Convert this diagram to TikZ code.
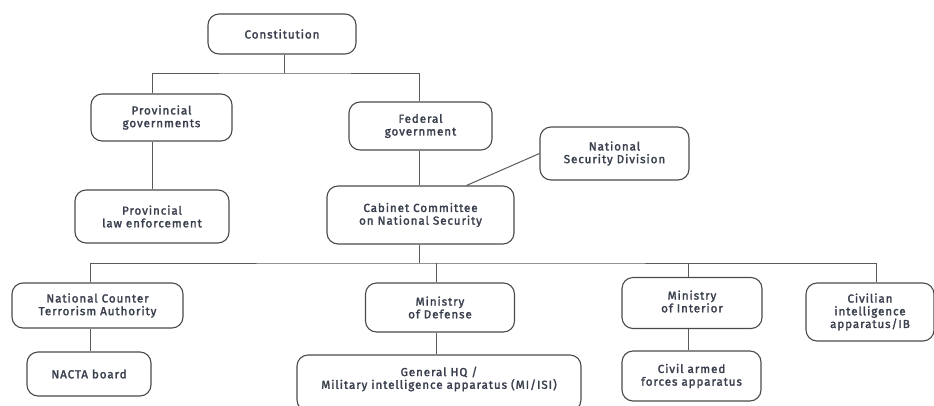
\documentclass[tikz,border=0pt]{standalone}
\usepackage{fontspec}
\setmainfont{Fira Sans}
\newfontfamily\lab{Fira Sans}[FakeBold=2, LetterSpace=8]
\definecolor{boxc}{HTML}{4A4A4A}
\definecolor{linec}{HTML}{5A5A5A}
\definecolor{txt}{HTML}{3A3F4E}
\begin{document}
\begin{tikzpicture}[x=1pt,y=-1pt,
  lbl/.style={text=txt, font=\fontsize{11.6}{12.7}\selectfont\lab, align=center},
  box/.style={lbl, draw=boxc, line width=1.1pt, rounded corners=11pt, inner sep=0pt},
  conn/.style={draw=linec, line width=1pt}]
\fill[white] (0,0) rectangle (934,405);
\useasboundingbox (0,0) rectangle (934,405);
% nodes
\node[box, minimum width=148, minimum height=40] (const) at (282,34) {Constitution};
\node[box, minimum width=141, minimum height=47] (prov) at (161.5,117.5) {Provincial\\governments};
\node[box, minimum width=143, minimum height=48] (fed) at (420.5,126) {Federal\\government};
\node[box, minimum width=154, minimum height=53] (plaw) at (152,216.5) {Provincial\\law enforcement};
\node[box, minimum width=187, minimum height=58] (ccns) at (420.5,215) {Cabinet Committee\\on National Security};
\node[box, minimum width=149, minimum height=53] (nsd) at (614.5,153.5) {National\\Security Division};
\node[box, minimum width=171, minimum height=45] (ncta) at (97.5,305.5) {National Counter\\Terrorism Authority};
\node[box, minimum width=124, minimum height=44] (nacta) at (89,374) {NACTA board};
\node[box, minimum width=149, minimum height=49] (mod) at (440,307.5) {Ministry\\of Defense};
\node[box, minimum width=284, minimum height=56] (ghq) at (439,383) {};
\node[lbl] (ghqt) at (439,379) {General HQ /\\Military intelligence apparatus (MI/ISI)};
\node[box, minimum width=140, minimum height=51] (moi) at (692,303) {};
\node[lbl] (moit) at (692,301.5) {Ministry\\of Interior};
\node[box, minimum width=139, minimum height=50] (caf) at (691.5,376) {Civil armed\\forces apparatus};
\node[box, minimum width=128, minimum height=58] (civ) at (870,312) {Civilian\\intelligence\\apparatus/IB};
% bus points
\coordinate (b1) at (284,73);
\coordinate (b2) at (419,263);
% connectors
\draw[conn] (const.south -| b1) -- (b1);
\draw[conn] (plaw.north |- prov.north) |- (b1) -| ([xshift=-1.5]fed.north);
\draw[conn] (plaw.north |- prov.south) -- (plaw.north);
\draw[conn] ([xshift=-1.5]fed.south) -- ([xshift=-1.5]ccns.north);
\draw[conn] (nsd.west) -- ([xshift=46]ccns.north);
\draw[conn] ([xshift=-1.5]ccns.south) -- (b2);
\draw[conn] ([xshift=1.5]nacta.north |- ncta.north) |- (b2) -| ([xshift=6]civ.north) ;
\draw[conn] ([xshift=-4]mod.north) -- ([xshift=-4]mod.north |- b2);
\draw[conn] ([xshift=-4]moi.north) -- ([xshift=-4]moi.north |- b2);
\draw[conn] ([xshift=1.5]nacta.north |- ncta.south) -- ([xshift=1.5]nacta.north);
\draw[conn] ([xshift=-4]mod.south) -- ([xshift=-3]ghq.north);
\draw[conn] ([xshift=-4]moi.south) -- ([xshift=-3.5]caf.north);
\end{tikzpicture}
\end{document}
